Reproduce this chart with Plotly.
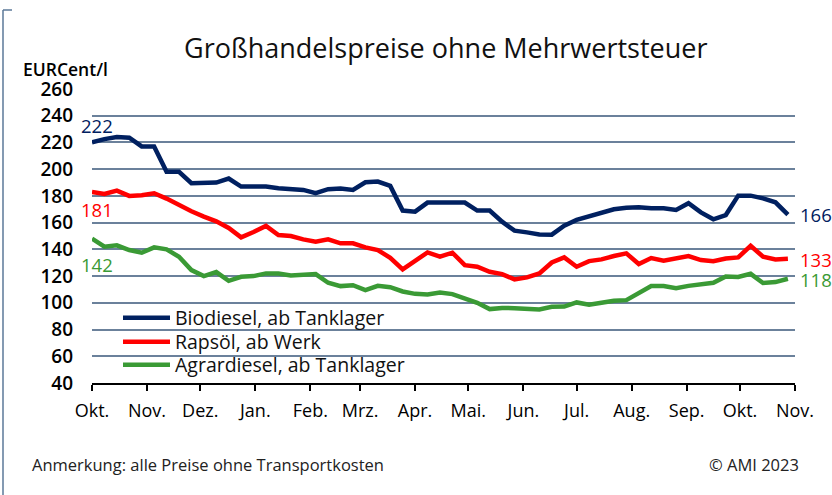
import pandas as pd
import plotly.graph_objects as go

# ---- data ----
week_start = "2022-10-01"
n_weeks = 57
dates = pd.date_range(week_start, periods=n_weeks, freq="7D")

biodiesel = [220, 222.5, 224, 223.5, 217, 217, 198, 198, 189.5, 190, 190, 193, 187, 187, 187,
             185.7, 185.5, 184.5, 182, 185, 185.5, 184.5, 190.2, 190.7, 187.5, 169, 168.2, 175, 175,
             175, 175, 169, 169, 160.7, 154, 152.7, 151.2, 151, 157.7, 162, 164.5, 167, 170,
             171.2, 171.5, 170.7, 170.7, 169.5, 174.5, 167.7, 162.5, 165.7, 180.2, 180.2, 178.2, 175.2, 166]
rapsoel = [183, 181.5, 184, 180, 180.5, 182, 178, 173, 168.5, 164.5, 161, 156, 149, 153, 157.5,
           150.7, 150, 147.5, 145.7, 147.5, 144.5, 144.5, 141.5, 139.5, 133.7, 125, 131.2, 137.7, 134.5,
           137.5, 128.2, 127, 123.2, 121.5, 117.5, 119, 122, 130.2, 134, 127, 131.2, 132.5, 135,
           137, 129, 133.5, 131.5, 133, 135, 132, 131.2, 133.2, 134, 142.6, 134.5, 132.5, 133]
agrardiesel = [148, 142, 143, 139.5, 137.5, 141.5, 140, 134.5, 124.5, 120, 123, 116.5, 119.5, 120, 122,
               122, 120.5, 120.7, 121.5, 115, 112.5, 113.2, 109.5, 112.7, 111.7, 108.5, 106.7, 106.2, 107.7,
               106.5, 103.5, 100, 95.3, 96.2, 96, 95.8, 95, 97, 97.2, 100.3, 98.5, 100, 101.5,
               102, 107.2, 112.5, 112.5, 111, 112.7, 113.7, 115, 119.7, 119.3, 121.7, 114.8, 115.5, 118]

series_names = ["Biodiesel, ab Tanklager", "Rapsöl, ab Werk", "Agrardiesel, ab Tanklager"]
series_colors = ["#002060", "#ff0000", "#3a9a35"]

month_ticks = pd.date_range("2022-10-01", "2023-11-01", freq="MS")
month_labels = ["Okt.", "Nov.", "Dez.", "Jan.", "Feb.", "Mrz.", "Apr.", "Mai.", "Jun.",
                "Jul.", "Aug.", "Sep.", "Okt.", "Nov."]
y_ticks = list(range(40, 261, 20))

# first / last value labels
left_labels = [("222", 232.5), ("181", 170.2), ("142", 129.0)]
right_labels = [("166", 166.3), ("133", 132.7), ("118", 117.7)]

FONT = "Open Sans"

W, H = 832, 495
ml, mr, mt, mb = 92, 37, 89, 112
pw, ph = W - ml - mr, H - mt - mb


def px_x(px):
    return (px - ml) / pw


def px_y(py):
    return (H - mb - py) / ph


legend_ids = ["legend", "legend2", "legend3"]
legend_rows = [318, 342, 365]

fig = go.Figure()
for name, vals, col, lid in zip(series_names, [biodiesel, rapsoel, agrardiesel], series_colors, legend_ids):
    fig.add_trace(go.Scatter(x=dates, y=vals, mode="lines", name=name, legend=lid,
                             line=dict(color=col, width=4.5)))

ann = []
for (txt, yv), col in zip(left_labels, series_colors):
    ann.append(dict(x=px_x(96.5), y=yv, xref="paper", yref="y", text=txt,
                    showarrow=False, xanchor="center", yanchor="middle",
                    font=dict(family=FONT, size=18.5, color=col)))
for (txt, yv), col in zip(right_labels, series_colors):
    ann.append(dict(x=px_x(798), y=yv, xref="paper", yref="y", text=txt,
                    showarrow=False, xanchor="left", yanchor="middle",
                    font=dict(family=FONT, size=18.5, color=col)))

ann.append(dict(x=px_x(21), y=px_y(69), xref="paper", yref="paper", text="EURCent/l",
                showarrow=False, xanchor="left", yanchor="middle",
                font=dict(family=FONT, size=17.5, color="#000", weight=600)))
ann.append(dict(x=px_x(446), y=px_y(47), xref="paper", yref="paper",
                text="Großhandelspreise ohne Mehrwertsteuer",
                showarrow=False, xanchor="center", yanchor="middle",
                font=dict(family=FONT, size=27, color="#111")))
ann.append(dict(x=px_x(30), y=px_y(464), xref="paper", yref="paper",
                text="Anmerkung: alle Preise ohne Transportkosten",
                showarrow=False, xanchor="left", yanchor="middle",
                font=dict(family=FONT, size=16.5, color="#222")))
ann.append(dict(x=px_x(801), y=px_y(464), xref="paper", yref="paper",
                text="© AMI 2023",
                showarrow=False, xanchor="right", yanchor="middle",
                font=dict(family=FONT, size=16.5, color="#222")))

frame_col = "#5b7898"
shapes = [
    dict(type="line", xref="paper", yref="paper", x0=px_x(3), x1=px_x(3), y0=px_y(10), y1=px_y(495),
         line=dict(color=frame_col, width=1.5)),
    dict(type="line", xref="paper", yref="paper", x0=px_x(3), x1=px_x(12), y0=px_y(10), y1=px_y(10),
         line=dict(color=frame_col, width=1.5)),
    # white legend panel hiding the grid behind the legend entries
    dict(type="rect", xref="paper", yref="paper", x0=px_x(112), x1=px_x(428), y0=px_y(378), y1=px_y(306),
         fillcolor="white", line=dict(width=0), layer="between"),
]

leg_common = dict(xanchor="left", yanchor="middle", bgcolor="rgba(0,0,0,0)", borderwidth=0,
                  font=dict(family=FONT, size=19.5, color="#111"), itemwidth=47)
legends = {}
for lid, row in zip(legend_ids, legend_rows):
    legends[lid] = dict(x=px_x(118), y=px_y(row), **leg_common)

fig.update_layout(
    width=W, height=H,
    margin=dict(l=ml, r=mr, t=mt, b=mb),
    paper_bgcolor="white", plot_bgcolor="white",
    font=dict(family=FONT, color="#000"),
    showlegend=True,
    annotations=ann,
    shapes=shapes,
    xaxis=dict(type="date", range=[pd.Timestamp("2022-10-01"), pd.Timestamp("2023-11-01")],
               tickmode="array", tickvals=month_ticks, ticktext=month_labels,
               showgrid=False, showline=True, linecolor="#000", linewidth=1.5,
               ticks="outside", ticklen=6, tickcolor="#000", tickwidth=1.5,
               tickfont=dict(family=FONT, size=18, color="#000"), ticklabelstandoff=5,
               zeroline=False),
    yaxis=dict(range=[40, 260], tickmode="array", tickvals=y_ticks,
               showgrid=True, gridcolor="#6b819b", gridwidth=1.8,
               showline=False, zeroline=False, ticks="",
               tickfont=dict(family=FONT, size=19, color="#000", weight=600),
               ticklabelstandoff=18),
    **legends,
)

fig.write_html("out.html", config={"displayModeBar": False},
               post_script="document.body.style.margin='0px';")
